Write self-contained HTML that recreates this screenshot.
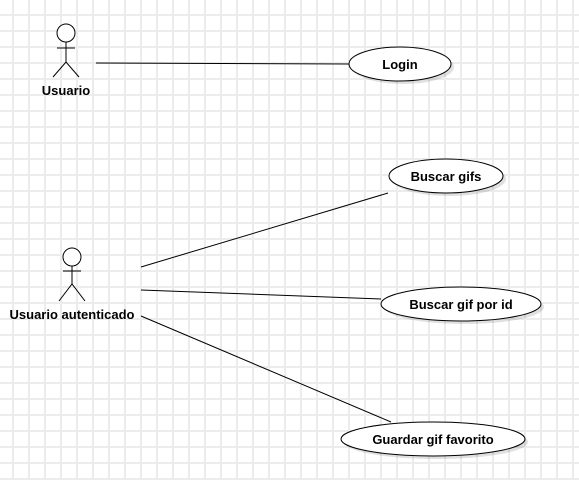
<!DOCTYPE html>
<html><head><style>
body{margin:0;background:#fff}
</style></head><body>
<svg width="579" height="480" xmlns="http://www.w3.org/2000/svg" font-family="Liberation Sans, sans-serif">
<defs>
<pattern id="g" x="12" y="14" width="16" height="16" patternUnits="userSpaceOnUse">
<rect x="0" y="0" width="16" height="2" fill="#ececec"/>
<rect x="0" y="0" width="2" height="16" fill="#ececec"/>
</pattern>
</defs>
<rect width="579" height="480" fill="url(#g)"/>
<g stroke="#000" stroke-width="1" fill="none">
<line x1="96" y1="63" x2="349" y2="64"/>
<line x1="141" y1="267" x2="388" y2="193"/>
<line x1="141" y1="290" x2="381" y2="299"/>
<line x1="141" y1="316" x2="391" y2="422"/>
<circle cx="66" cy="33" r="9" fill="#fff"/>
<path d="M66 42V62M57 48H75M53 77L66 62L79 77"/>
<circle cx="72" cy="257" r="9" fill="#fff"/>
<path d="M72 266V284M63 271H81M59 301L72 284L85 301"/>
</g>
<g fill="#000" fill-opacity="0.12">
<ellipse cx="403" cy="67" rx="51" ry="17"/>
<ellipse cx="449" cy="179" rx="57" ry="17"/>
<ellipse cx="464" cy="307" rx="80" ry="17"/>
<ellipse cx="436" cy="442" rx="92" ry="17"/>
</g>
<g fill="#fff" stroke="#000">
<ellipse cx="400" cy="64" rx="51" ry="17"/>
<ellipse cx="446" cy="176" rx="57" ry="17"/>
<ellipse cx="461" cy="304" rx="80" ry="17"/>
<ellipse cx="433" cy="439" rx="92" ry="17"/>
</g>
<g font-size="13" font-weight="bold" text-anchor="middle" fill="#000">
<text x="66" y="95">Usuario</text>
<text x="72" y="319">Usuario autenticado</text>
<text x="400" y="69">Login</text>
<text x="446" y="181">Buscar gifs</text>
<text x="461" y="309">Buscar gif por id</text>
<text x="433" y="444">Guardar gif favorito</text>
</g>
</svg>
</body></html>
